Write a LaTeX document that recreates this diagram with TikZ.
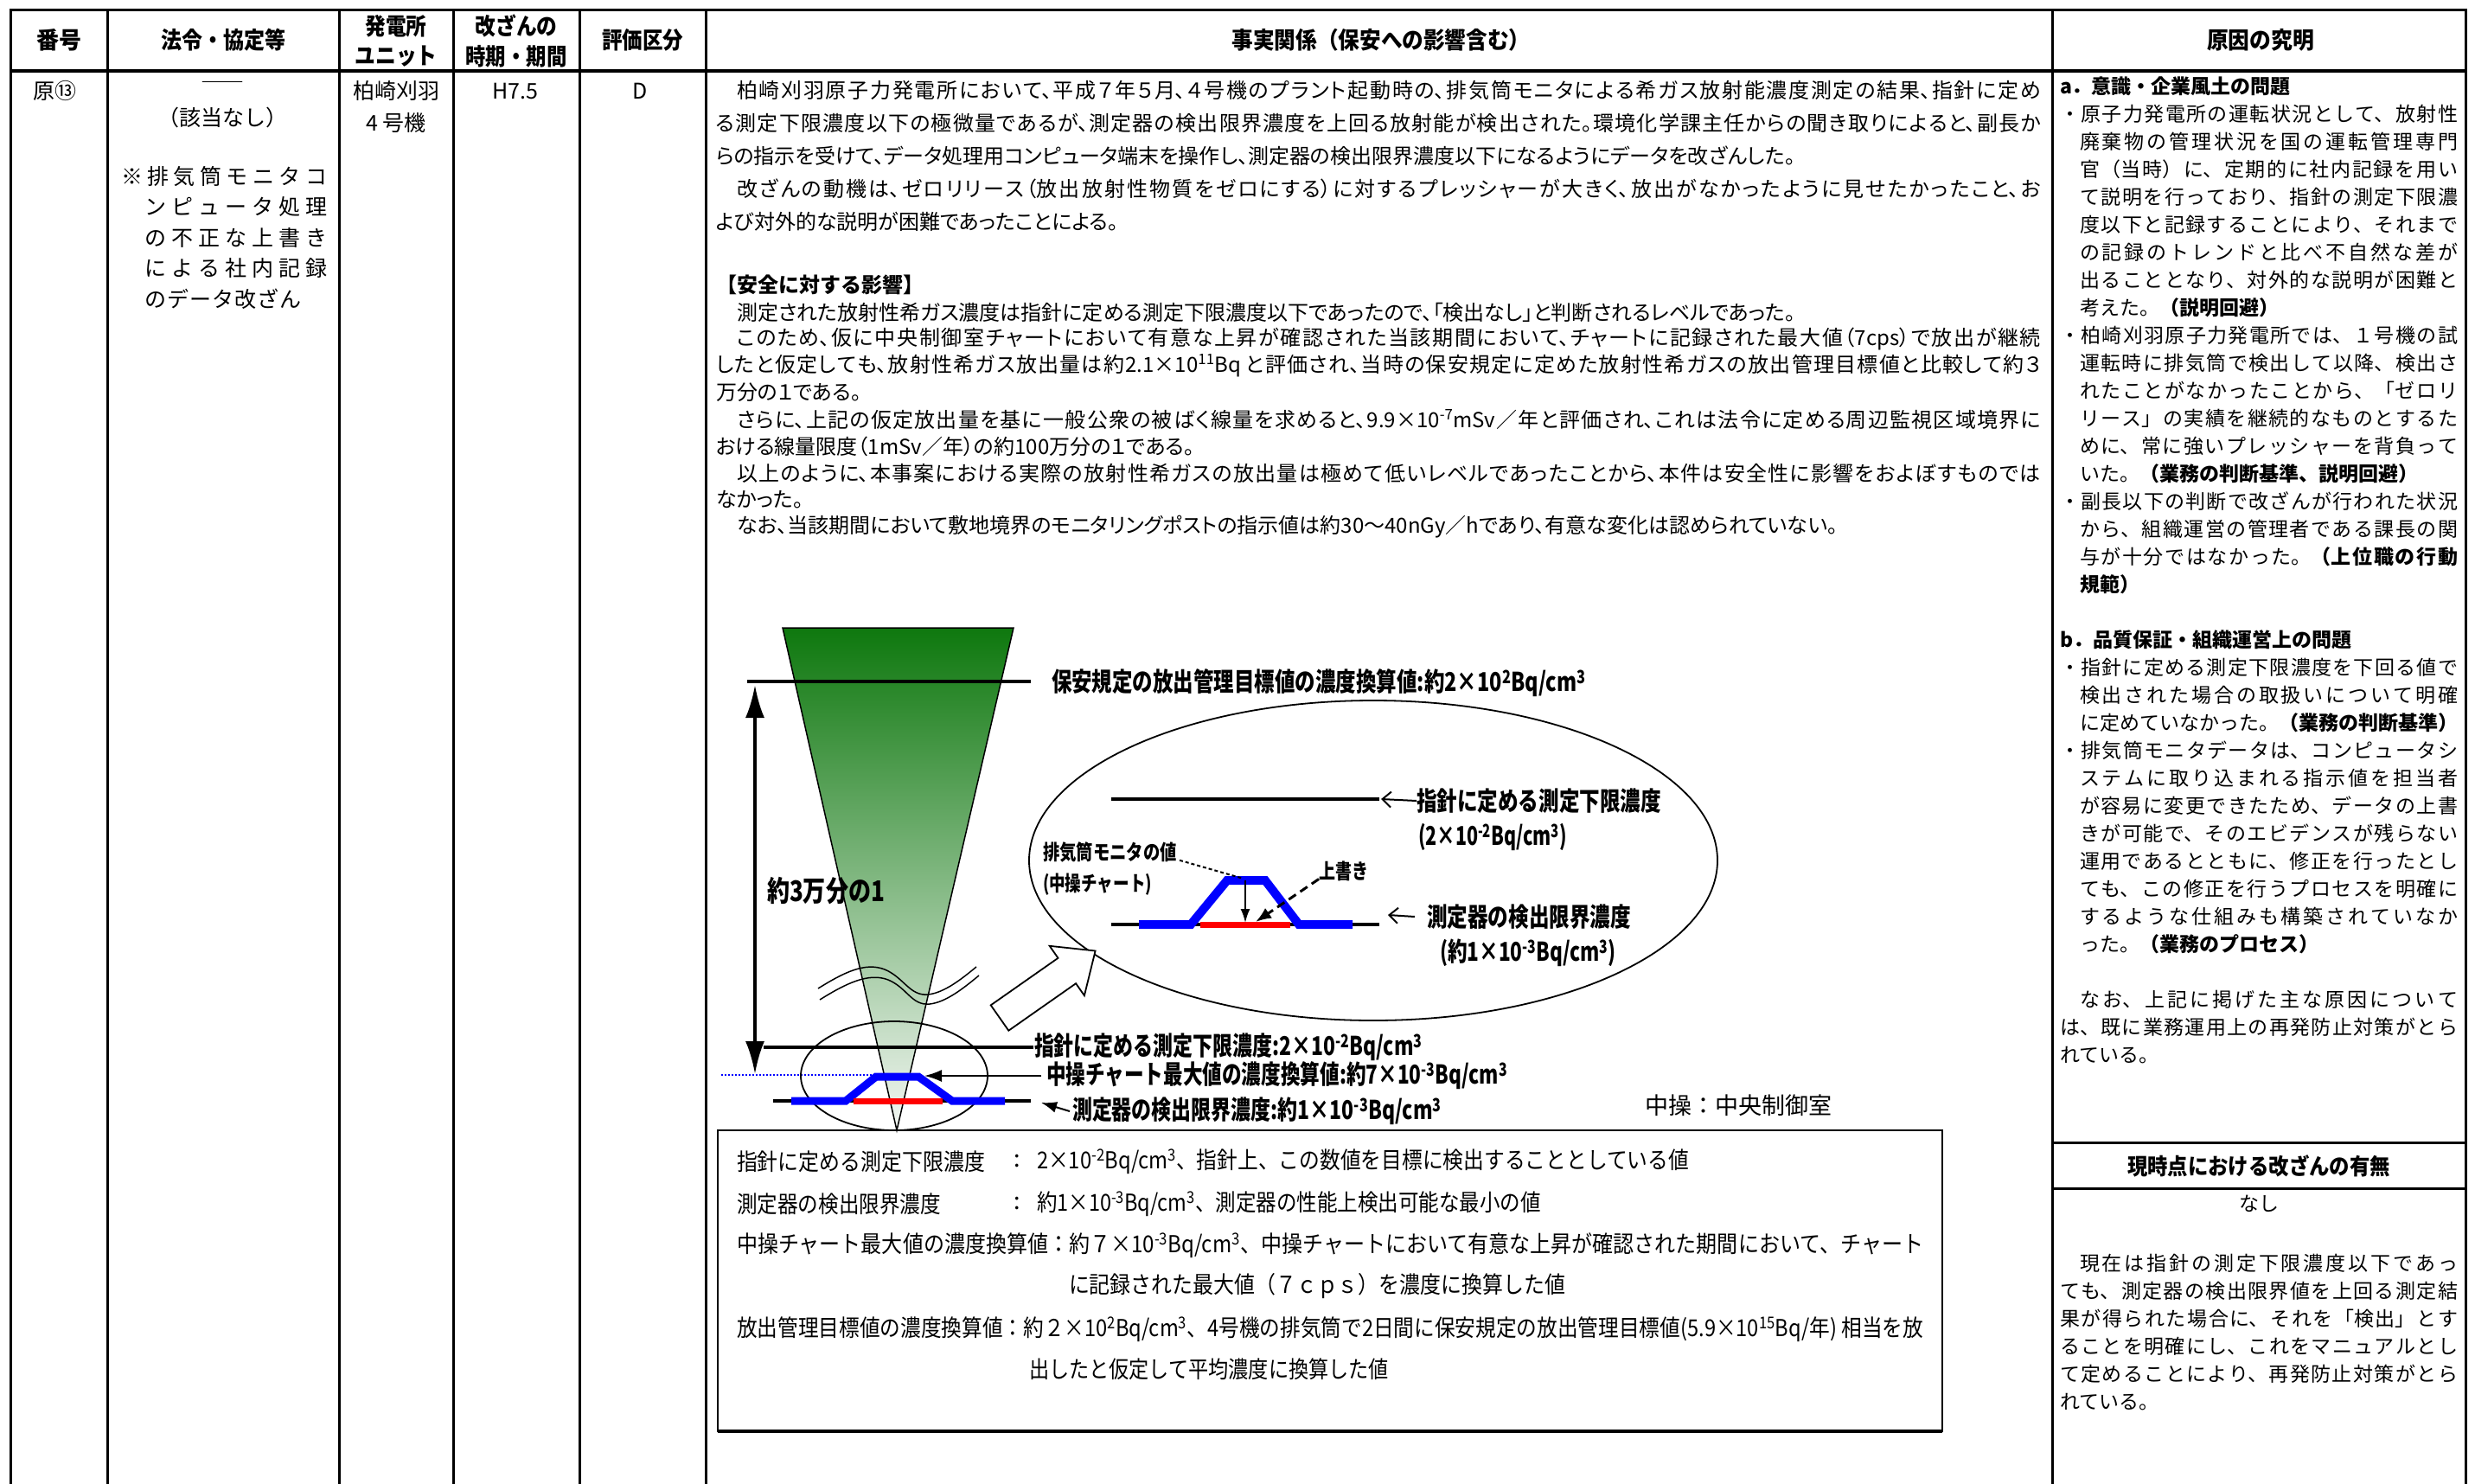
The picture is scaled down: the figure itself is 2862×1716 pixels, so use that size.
\documentclass[tikz,border=0pt]{standalone}
\usepackage{fontspec}
\usepackage{graphicx}
\setmainfont{Noto Sans CJK JP}
\newfontfamily\pf{Noto Sans CJK JP}[RawFeature=+palt]
\usetikzlibrary{arrows.meta}
\XeTeXlinebreaklocale "ja"
\XeTeXlinebreakskip=0pt plus 1fil
\newcommand\fs[1]{\fontsize{#1}{#1}\selectfont}
\newsavebox\jlbox
\newcommand\jl[2]{\sbox\jlbox{#2}\ifdim\wd\jlbox>#1\relax\resizebox{#1}{\height}{\usebox\jlbox}\else\parbox[b]{#1}{\parfillskip=0pt\relax #2}\fi}
\newcommand\fit[2]{\resizebox{#1}{\height}{#2}}
\newcommand\sps[1]{\textsuperscript{#1}}
\definecolor{gtop}{RGB}{14,120,14}
\definecolor{gbot}{RGB}{244,247,244}
\definecolor{bl}{RGB}{0,0,255}
\definecolor{rd}{RGB}{255,0,0}
\begin{document}
\begin{tikzpicture}[x=1pt,y=-1pt,
  every node/.style={inner sep=0pt,outer sep=0pt},
  tl/.style={line width=3pt,black},
  hd/.style={font=\bfseries\fs{27}},
  tx/.style={anchor=west,font=\pf\fs{24}},
  rc/.style={anchor=west,font=\fs{23}},
  cc/.style={font=\fs{25}},
  lab/.style={anchor=west,font=\bfseries\fs{30}},
  bx/.style={anchor=west,font=\fs{27}},
  thk/.style={line width=4.5pt,black},
  blu/.style={line width=9pt,bl},
  redline/.style={line width=7pt,rd},
  thin1/.style={line width=1.8pt,black}
]
\fill[white] (0,0) rectangle (2862,1716);
\useasboundingbox (0,0) rectangle (2862,1716);

% ---------------- table frame ----------------
\foreach \x in {12,124,392,524,670,816,2373,2851} \draw[tl] (\x,10) -- (\x,1716);
\draw[tl] (10.5,11) -- (2852.5,11);
\draw[line width=4pt] (12,82) -- (2851,82);
\draw[tl] (2373,1321) -- (2851,1321);
\draw[tl] (2373,1374) -- (2851,1374);

% ---------------- headers ----------------
\node[hd] (h1) at (68,46) {\fit{52pt}{番号}};
\node[hd] (h2) at (258,46) {\fit{144pt}{法令・協定等}};
\node[hd] (h3a) at (458,30) {\fit{71pt}{発電所}};
\node[hd] (h3b) at (458,65) {\fit{95pt}{ユニット}};
\node[hd] (h4a) at (597,30) {\fit{95pt}{改ざんの}};
\node[hd] (h4b) at (597,65) {\fit{117pt}{時期・期間}};
\node[hd] (h5) at (743,46) {\fit{94pt}{評価区分}};
\node[hd] (h6) at (1597,46) {\fit{345pt}{事実関係（保安への影響含む）}};
\node[hd] (h7) at (2614,46) {\fit{124pt}{原因の究明}};

% ---------------- left columns ----------------
\node[cc,anchor=west] (n1) at (38,105) {原⑬};
\node[cc] (c2d) at (257,99) {――};
\node[cc] (c2n) at (257,136) {（該当なし）};
\node[cc,anchor=west] (c2a) at (140,204) {\jl{238pt}{※排気筒モニタコ}};
\node[cc,anchor=west] (c2b) at (167,239.5) {\jl{211pt}{ンピュータ処理}};
\node[cc,anchor=west] (c2c) at (167,275) {\jl{211pt}{の不正な上書き}};
\node[cc,anchor=west] (c2e) at (167,310.5) {\jl{211pt}{による社内記録}};
\node[cc,anchor=west] (c2f) at (167,346) {\jl{181pt}{のデータ改ざん}};
\node[cc] (u1) at (458,105) {柏崎刈羽};
\node[cc] (u2) at (458,142) {4 号機};
\node[cc] (t1) at (596,105) {H7.5};
\node[cc] (v1) at (740,105) {D};

% ---------------- main text ----------------
\node[tx] (p1) at (852,104) {\jl{1508pt}{柏崎刈羽原子力発電所において、平成７年５月、４号機のプラント起動時の、排気筒モニタによる希ガス放射能濃度測定の結果、指針に定め}};
\node[tx] (p2) at (828,142) {\jl{1532pt}{る測定下限濃度以下の極微量であるが、測定器の検出限界濃度を上回る放射能が検出された。環境化学課主任からの聞き取りによると、副長か}};
\node[tx] (p3) at (828,180) {らの指示を受けて、データ処理用コンピュータ端末を操作し、測定器の検出限界濃度以下になるようにデータを改ざんした。};
\node[tx] (p4) at (852,218) {\jl{1508pt}{改ざんの動機は、ゼロリリース（放出放射性物質をゼロにする）に対するプレッシャーが大きく、放出がなかったように見せたかったこと、お}};
\node[tx] (p5) at (828,256) {よび対外的な説明が困難であったことによる。};
\node[tx,font=\bfseries\fs{24}] (s0) at (828,329) {【安全に対する影響】};
\node[tx] (s1) at (852,361) {測定された放射性希ガス濃度は指針に定める測定下限濃度以下であったので、「検出なし」と判断されるレベルであった。};
\node[tx] (s2) at (852,392) {\jl{1508pt}{このため、仮に中央制御室チャートにおいて有意な上昇が確認された当該期間において、チャートに記録された最大値（7cps）で放出が継続}};
\node[tx] (s3) at (828,423) {\jl{1532pt}{したと仮定しても、放射性希ガス放出量は約2.1×10\sps{11}Bq と評価され、当時の保安規定に定めた放射性希ガスの放出管理目標値と比較して約３}};
\node[tx] (s4) at (828,454) {万分の１である。};
\node[tx] (s5) at (852,485) {\jl{1508pt}{さらに、上記の仮定放出量を基に一般公衆の被ばく線量を求めると、9.9×10\sps{-7}mSv／年と評価され、これは法令に定める周辺監視区域境界に}};
\node[tx] (s6) at (828,516) {おける線量限度（1mSv／年）の約100万分の１である。};
\node[tx] (s7) at (852,547) {\jl{1508pt}{以上のように、本事案における実際の放射性希ガスの放出量は極めて低いレベルであったことから、本件は安全性に影響をおよぼすものでは}};
\node[tx] (s8) at (828,578) {なかった。};
\node[tx] (s9) at (852,609) {なお、当該期間において敷地境界のモニタリングポストの指示値は約30～40nGy／hであり、有意な変化は認められていない。};

% ---------------- right column ----------------
\node[rc,font=\bfseries\fs{23}] (r0) at (2382,100) {a．意識・企業風土の問題};
\node[rc] (r1) at (2382,132) {\jl{460pt}{・原子力発電所の運転状況として、放射性}};
\node[rc] (r2) at (2405,164) {\jl{437pt}{廃棄物の管理状況を国の運転管理専門}};
\node[rc] (r3) at (2405,196) {\jl{437pt}{官（当時）に、定期的に社内記録を用い}};
\node[rc] (r4) at (2405,228) {\jl{437pt}{て説明を行っており、指針の測定下限濃}};
\node[rc] (r5) at (2405,260) {\jl{437pt}{度以下と記録することにより、それまで}};
\node[rc] (r6) at (2405,292) {\jl{437pt}{の記録のトレンドと比べ不自然な差が}};
\node[rc] (r7) at (2405,324) {\jl{437pt}{出ることとなり、対外的な説明が困難と}};
\node[rc] (r8) at (2405,356) {考えた。{\bfseries（説明回避）}};
\node[rc] (r9) at (2382,388) {\jl{460pt}{・柏崎刈羽原子力発電所では、１号機の試}};
\node[rc] (r10) at (2405,420) {\jl{437pt}{運転時に排気筒で検出して以降、検出さ}};
\node[rc] (r11) at (2405,452) {\jl{437pt}{れたことがなかったことから、「ゼロリ}};
\node[rc] (r12) at (2405,484) {\jl{437pt}{リース」の実績を継続的なものとするた}};
\node[rc] (r13) at (2405,516) {\jl{437pt}{めに、常に強いプレッシャーを背負って}};
\node[rc] (r14) at (2405,548) {いた。{\bfseries（業務の判断基準、説明回避）}};
\node[rc] (r15) at (2382,580) {\jl{460pt}{・副長以下の判断で改ざんが行われた状況}};
\node[rc] (r16) at (2405,612) {\jl{437pt}{から、組織運営の管理者である課長の関}};
\node[rc] (r17) at (2405,644) {\jl{437pt}{与が十分ではなかった。{\bfseries（上位職の行動}}};
\node[rc] (r18) at (2405,676) {\bfseries 規範）};
\node[rc,font=\bfseries\fs{23}] (r20) at (2382,740) {b．品質保証・組織運営上の問題};
\node[rc] (r21) at (2382,772) {\jl{460pt}{・指針に定める測定下限濃度を下回る値で}};
\node[rc] (r22) at (2405,804) {\jl{437pt}{検出された場合の取扱いについて明確}};
\node[rc] (r23) at (2405,836) {\jl{437pt}{に定めていなかった。{\bfseries（業務の判断基準）}}};
\node[rc] (r24) at (2382,868) {\jl{460pt}{・排気筒モニタデータは、コンピュータシ}};
\node[rc] (r25) at (2405,900) {\jl{437pt}{ステムに取り込まれる指示値を担当者}};
\node[rc] (r26) at (2405,932) {\jl{437pt}{が容易に変更できたため、データの上書}};
\node[rc] (r27) at (2405,964) {\jl{437pt}{きが可能で、そのエビデンスが残らない}};
\node[rc] (r28) at (2405,996) {\jl{437pt}{運用であるとともに、修正を行ったとし}};
\node[rc] (r29) at (2405,1028) {\jl{437pt}{ても、この修正を行うプロセスを明確に}};
\node[rc] (r30) at (2405,1060) {\jl{437pt}{するような仕組みも構築されていなか}};
\node[rc] (r31) at (2405,1092) {った。{\bfseries（業務のプロセス）}};
\node[rc] (r33) at (2405,1156) {\jl{437pt}{なお、上記に掲げた主な原因について}};
\node[rc] (r34) at (2382,1188) {\jl{460pt}{は、既に業務運用上の再発防止対策がとら}};
\node[rc] (r35) at (2382,1220) {れている。};

\node[hd,font=\bfseries\fs{26}] (g0) at (2612,1348) {\fit{304pt}{現時点における改ざんの有無}};
\node[font=\fs{23}] (g1) at (2612,1392) {なし};
\node[rc] (g2) at (2405,1461) {\jl{437pt}{現在は指針の測定下限濃度以下であっ}};
\node[rc] (g3) at (2382,1493) {\jl{460pt}{ても、測定器の検出限界値を上回る測定結}};
\node[rc] (g4) at (2382,1525) {\jl{460pt}{果が得られた場合に、それを「検出」とす}};
\node[rc] (g5) at (2382,1557) {\jl{460pt}{ることを明確にし、これをマニュアルとし}};
\node[rc] (g6) at (2382,1589) {\jl{460pt}{て定めることにより、再発防止対策がとら}};
\node[rc] (g7) at (2382,1621) {れている。};

% ---------------- diagram: cone ----------------
\shadedraw[top color=gtop, bottom color=gbot, draw=black, line width=1.5pt] (905,726) -- (1172,726) -- (1037,1307) -- cycle;
\draw[line width=1.5pt] (946,1143) .. controls (975,1125) and (1000,1112) .. (1023,1121) .. controls (1045,1130) and (1052,1152) .. (1073,1150) .. controls (1092,1148) and (1112,1132) .. (1129,1118);
\draw[line width=1.5pt] (948,1156) .. controls (977,1138) and (1004,1124) .. (1027,1133) .. controls (1049,1142) and (1054,1163) .. (1075,1161) .. controls (1094,1159) and (1115,1142) .. (1132,1128);
\draw[thk] (864,788) -- (1192,788);
\coordinate (dtop) at (873,792);
\coordinate (dbot) at (873,1242);
\draw[line width=4pt, {Latex[length=38pt,width=22pt]}-{Latex[length=38pt,width=22pt]}] (dtop) -- (dbot);
\draw[bl, line width=1.5pt, dash pattern=on 2pt off 2pt] (834,1243) -- (1010,1243);
\draw[thk] (883,1211) -- (1195,1211);
\draw[thin1] (1034,1244) ellipse [x radius=108, y radius=63];
\draw[thk] (894,1273) -- (1192,1273);
\draw[blu] (915,1273) -- (978,1273) -- (1013,1245) -- (1062,1245) -- (1101,1273) -- (1162,1273);
\draw[redline] (987,1273) -- (1090,1273);

\node[lab,font=\bfseries\fs{33}] (l3) at (887,1030) {\fit{136pt}{約3万分の1}};
\node[lab] (lt) at (1216,790) {\fit{618pt}{保安規定の放出管理目標値の濃度換算値:約2×10\sps{2}Bq/cm\sps{3}}};
\node[lab] (ls) at (1196,1211) {\fit{449pt}{指針に定める測定下限濃度:2×10\sps{-2}Bq/cm\sps{3}}};
\node[lab] (lc) at (1210,1244) {\fit{533pt}{中操チャート最大値の濃度換算値:約7×10\sps{-3}Bq/cm\sps{3}}};
\node[lab] (ld) at (1240,1285) {\fit{427pt}{測定器の検出限界濃度:約1×10\sps{-3}Bq/cm\sps{3}}};
\coordinate (ct) at (1069,1244);
\draw[line width=2pt,-{Latex[length=20pt,width=14pt]}] ([xshift=-6pt]lc.west) -- (ct);
\coordinate (dl) at (1204,1275);
\draw[line width=2pt,-{Latex[length=18pt,width=13pt]}] ([xshift=-3pt]ld.west) -- (dl);

% ---------------- magnified ellipse ----------------
\draw[thin1, fill=white] (1588,995) ellipse [x radius=398, y radius=185];
\draw[thin1, fill=white, line join=miter] (1145.7,1162.3) -- (1223.5,1107.8) -- (1213.7,1093.8) -- (1266.6,1099.5) -- (1253.9,1151.2) -- (1244.1,1137.2) -- (1166.3,1191.7) -- cycle;

\draw[thk] (1285,924) -- (1595,924);
\draw[thk] (1285,1069) -- (1595,1069);
\draw[blu, line width=10pt] (1317,1069) -- (1377,1069) -- (1419,1018) -- (1463,1018) -- (1502,1069) -- (1564,1069);
\draw[redline] (1388,1069) -- (1492,1069);
\coordinate (itop) at (1440,1018);
\coordinate (ibot) at (1440,1067);
\draw[line width=2pt,-{Latex[length=16pt,width=11pt]}] (itop) -- (ibot);

\node[lab] (e1) at (1638,926) {\fit{283pt}{指針に定める測定下限濃度}};
\node[lab] (e2) at (1640,968) {\fit{172pt}{(2×10\sps{-2}Bq/cm\sps{3})}};
\node[lab,font=\bfseries\fs{24}] (e3) at (1206,985) {\fit{155pt}{排気筒モニタの値}};
\node[lab,font=\bfseries\fs{24}] (e4) at (1206,1023) {\fit{126pt}{(中操チャート)}};
\node[lab,font=\bfseries\fs{24}] (e5) at (1525,1007) {\fit{57pt}{上書き}};
\node[lab] (e6) at (1650,1060) {\fit{236pt}{測定器の検出限界濃度}};
\node[lab] (e7) at (1665,1102) {\fit{204pt}{(約1×10\sps{-3}Bq/cm\sps{3})}};

\coordinate (e1t) at (1597,924);
\draw[line width=2pt,-{Straight Barb[length=10pt,width=18pt]}] (e1.west) -- (e1t);
\coordinate (e6t) at (1605,1058);
\draw[line width=2pt,-{Straight Barb[length=10pt,width=18pt]}] ([xshift=-14pt]e6.west) -- (e6t);
\coordinate (ptop) at (1438,1016);
\draw[line width=2pt, dash pattern=on 4pt off 3pt] ([xshift=3pt,yshift=2pt]e3.south east) -- (ptop);
\coordinate (ow) at (1452,1066);
\draw[line width=3pt, dash pattern=on 10pt off 6pt, -{Latex[length=18pt,width=14pt]}] ([yshift=2pt]e5.south west) -- (ow);

% ---------------- legend box ----------------
\node[font=\fs{27},anchor=west] (cm) at (1902,1278) {中操：中央制御室};
\draw[line width=2pt] (830,1307) rectangle (2246,1655);
\draw[line width=4pt] (830,1655) -- (2246,1655);
\node[bx] (b1a) at (852,1343) {\fit{287pt}{指針に定める測定下限濃度}};
\node[bx] (b1c) at (1172,1343) {:};
\node[bx] (b1b) at (1199,1343) {\fit{754pt}{2×10\sps{-2}Bq/cm\sps{3}、指針上、この数値を目標に検出することとしている値}};
\node[bx] (b2a) at (852,1392) {\fit{236pt}{測定器の検出限界濃度}};
\node[bx] (b2c) at (1172,1392) {:};
\node[bx] (b2b) at (1199,1392) {\fit{583pt}{約1×10\sps{-3}Bq/cm\sps{3}、測定器の性能上検出可能な最小の値}};
\node[bx] (b3) at (852,1440) {\fit{1372pt}{中操チャート最大値の濃度換算値：約７×10\sps{-3}Bq/cm\sps{3}、中操チャートにおいて有意な上昇が確認された期間において、チャート}};
\node[bx] (b3b) at (1236,1487) {\fit{574pt}{に記録された最大値（７ｃｐｓ）を濃度に換算した値}};
\node[bx] (b4) at (852,1537) {\fit{1372pt}{放出管理目標値の濃度換算値：約２×10\sps{2}Bq/cm\sps{3}、4号機の排気筒で2日間に保安規定の放出管理目標値(5.9×10\sps{15}Bq/年) 相当を放}};
\node[bx] (b4b) at (1190,1583) {\fit{416pt}{出したと仮定して平均濃度に換算した値}};
\end{tikzpicture}
\end{document}
